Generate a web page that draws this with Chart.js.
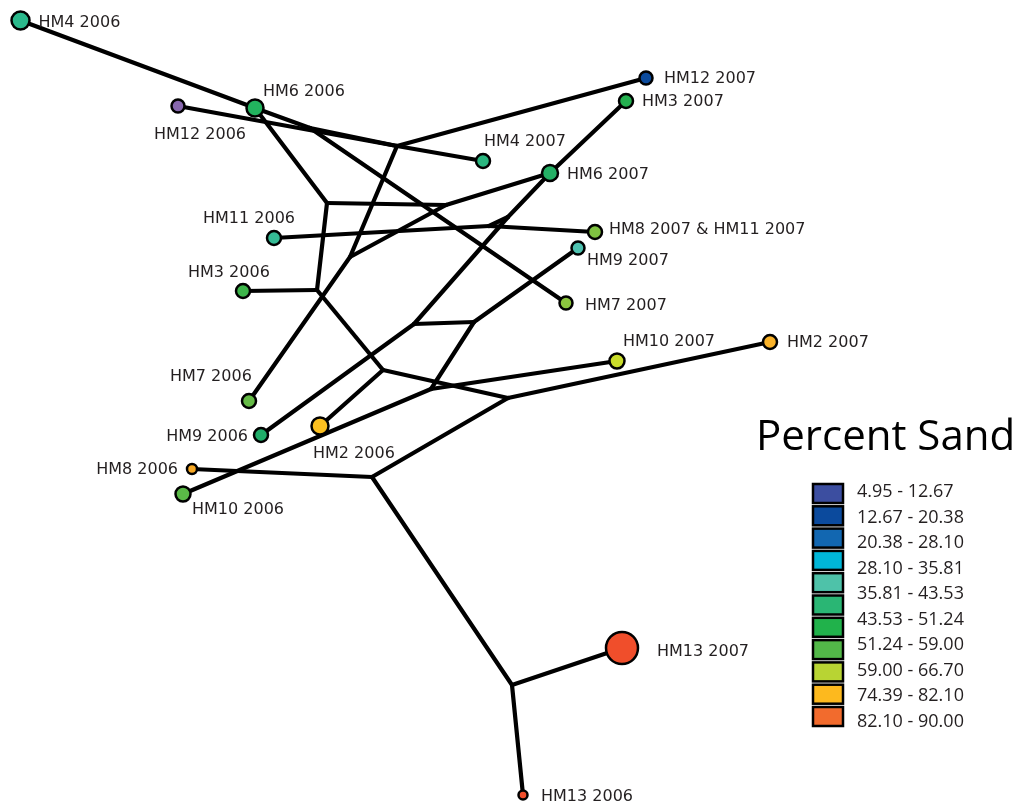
<!DOCTYPE html>
<html>
<head>
<meta charset="utf-8">
<title>Percent Sand</title>
<script src="https://cdn.jsdelivr.net/npm/chart.js@4.4.1/dist/chart.umd.min.js"></script>
<style>
  html, body { margin: 0; padding: 0; background: #fff; }
  #wrap { width: 1019px; height: 806px; }
</style>
</head>
<body>
<div id="wrap"><canvas id="network" width="1019" height="806"></canvas></div>
<script>
// sample sites (leaves of the network)
const siteNames = [
  'HM4 2006', 'HM6 2006', 'HM12 2006', 'HM12 2007', 'HM3 2007', 'HM4 2007', 'HM6 2007',
  'HM11 2006', 'HM8 2007 & HM11 2007', 'HM9 2007', 'HM3 2006', 'HM7 2007', 'HM10 2007',
  'HM2 2007', 'HM7 2006', 'HM9 2006', 'HM2 2006', 'HM8 2006', 'HM10 2006', 'HM13 2007', 'HM13 2006'
];
const siteX = [20.5, 255, 178, 646, 626, 483, 550, 274, 595, 578, 243, 566, 617, 770, 249, 261, 320, 192, 183, 622, 523];
const siteY = [20.5, 108, 106, 78, 101, 161, 173, 238, 232, 248, 291, 303, 361, 342, 401, 435, 426, 469, 494, 648, 795];

// inner vertices of the split network
const hubNames = ['J1', 'JT', 'J2', 'J3', 'J4', 'J5', 'J6', 'J7', 'J8', 'J9', 'J10', 'J11', 'J12', 'J13', 'J14'];
const hubX = [310, 397, 327, 317, 446, 350, 383, 508, 372, 512, 414, 474, 431, 489, 508];
const hubY = [128, 146, 203, 290, 205, 257, 370, 398, 477, 685, 324, 322, 389, 226, 217];

const edges = [
  ['HM4 2006', 'HM6 2006'], ['HM6 2006', 'J1'], ['J1', 'JT'], ['HM12 2006', 'JT'],
  ['JT', 'HM4 2007'], ['JT', 'HM12 2007'], ['J1', 'HM7 2007'], ['JT', 'J5'],
  ['HM6 2006', 'J2'], ['J2', 'J3'], ['J2', 'J4'], ['J4', 'HM6 2007'], ['J4', 'J5'],
  ['J5', 'HM7 2006'], ['J3', 'HM3 2006'], ['J3', 'J6'], ['J6', 'HM2 2006'], ['J6', 'J7'],
  ['J7', 'HM2 2007'], ['J7', 'J8'], ['J8', 'HM8 2006'], ['J8', 'J9'], ['J9', 'HM13 2007'],
  ['J9', 'HM13 2006'], ['HM3 2007', 'HM6 2007'], ['HM6 2007', 'J14'], ['J14', 'J10'],
  ['J10', 'HM9 2006'], ['J10', 'J11'], ['J11', 'HM9 2007'], ['J11', 'J12'],
  ['J12', 'HM10 2006'], ['J12', 'HM10 2007'], ['HM11 2006', 'J13'], ['J13', 'HM8 2007 & HM11 2007'],
  ['J13', 'J14']
];

const legendTitle = 'Percent Sand';
const legendLabels = [
  '4.95 - 12.67', '12.67 - 20.38', '20.38 - 28.10', '28.10 - 35.81', '35.81 - 43.53',
  '43.53 - 51.24', '51.24 - 59.00', '59.00 - 66.70', '74.39 - 82.10', '82.10 - 90.00'
];

// styling
const siteColors = [
  '#2bb98c', '#22b35e', '#8767ad', '#0b4a9c', '#24b04f', '#2ab67f', '#24b065',
  '#35bb95', '#7fc241', '#4ec2b0', '#3db54a', '#8cc63f', '#c9dc2a', '#f9b22a',
  '#65bb46', '#20ad69', '#fcc020', '#f8a925', '#5ab947', '#f04e2b', '#f04e2b'
];
const siteRadius = [9, 8.5, 6.5, 6.5, 7, 7, 8, 7, 7, 6.5, 7, 6.5, 7.5, 7, 7, 7, 8.5, 5, 7.5, 16, 4.5];
// label offset from the circle centre: dx, dy, alignment
const labelOffset = [
  [18, 2, 'left'], [8, -16, 'left'], [-24, 29, 'left'], [18, 1, 'left'], [16, 1, 'left'],
  [1, -19, 'left'], [17, 2, 'left'], [-71, -19, 'left'], [14, -2, 'left'], [9, 13, 'left'],
  [-55, -18, 'left'], [19, 3, 'left'], [6, -19, 'left'], [17, 1, 'left'], [-79, -24, 'left'],
  [-13, 2, 'right'], [-7, 28, 'left'], [-14, 1, 'right'], [9, 16, 'left'], [35, 4, 'left'],
  [18, 2, 'left']
];
const legendColors = [
  '#3c4ea0', '#0b4a9d', '#1267b1', '#00b6d8', '#4ec2a9', '#2ab674',
  '#21b24b', '#52b848', '#b8d433', '#fdb91e', '#f26b2d'
];

const pos = {};
siteNames.forEach((n, i) => { pos[n] = { x: siteX[i], y: siteY[i] }; });
hubNames.forEach((n, i) => { pos[n] = { x: hubX[i], y: hubY[i] }; });

const edgeSets = edges.map(([a, b]) => ({
  data: [{ x: pos[a].x, y: pos[a].y }, { x: pos[b].x, y: pos[b].y }],
  showLine: true,
  borderColor: '#000',
  borderWidth: 4.2,
  borderCapStyle: 'round',
  pointRadius: 0,
  pointHoverRadius: 0,
  order: 1,
  clip: false
}));

const siteSet = {
  data: siteX.map((x, i) => ({ x: x, y: siteY[i] })),
  pointRadius: siteRadius,
  pointHoverRadius: siteRadius,
  pointBackgroundColor: siteColors,
  pointBorderColor: '#000',
  pointBorderWidth: 2.5,
  pointHoverBorderWidth: 2.5,
  showLine: false,
  order: 0,
  clip: false
};

// names next to the circles
const siteLabels = {
  id: 'siteLabels',
  afterDatasetsDraw(chart) {
    const ctx = chart.ctx;
    const meta = chart.getDatasetMeta(0);
    ctx.save();
    ctx.font = '16px "DejaVu Sans"';
    ctx.fillStyle = '#231f20';
    ctx.textBaseline = 'middle';
    meta.data.forEach((pt, i) => {
      const [dx, dy, align] = labelOffset[i];
      ctx.textAlign = align;
      ctx.fillText(siteNames[i], pt.x + dx, pt.y + dy);
    });
    ctx.restore();
  }
};

// colour key on the right
const sandKey = {
  id: 'sandKey',
  afterDraw(chart) {
    const ctx = chart.ctx;
    ctx.save();
    ctx.fillStyle = '#000';
    ctx.textAlign = 'left';
    ctx.textBaseline = 'alphabetic';
    ctx.font = '42px "Open Sans"';
    ctx.fillText(legendTitle, 756, 450);

    legendColors.forEach((c, i) => {
      const y = 484 + i * 22.3;
      ctx.fillStyle = c;
      ctx.fillRect(813, y, 30, 19);
      ctx.lineWidth = 2.5;
      ctx.strokeStyle = '#000';
      ctx.strokeRect(813, y, 30, 19);
    });

    ctx.fillStyle = '#231f20';
    ctx.font = '18px "Open Sans"';
    ctx.textBaseline = 'middle';
    legendLabels.forEach((t, i) => {
      ctx.fillText(t, 857, 492 + i * 25.5);
    });
    ctx.restore();
  }
};

new Chart(document.getElementById('network'), {
  type: 'scatter',
  data: { datasets: [siteSet].concat(edgeSets) },
  options: {
    responsive: false,
    animation: false,
    events: [],
    layout: { padding: 0, autoPadding: false },
    plugins: { legend: { display: false }, tooltip: { enabled: false } },
    scales: {
      x: { type: 'linear', min: 0, max: 1019, display: false },
      y: { type: 'linear', min: 0, max: 806, reverse: true, display: false }
    }
  },
  plugins: [siteLabels, sandKey]
});
</script>
</body>
</html>
